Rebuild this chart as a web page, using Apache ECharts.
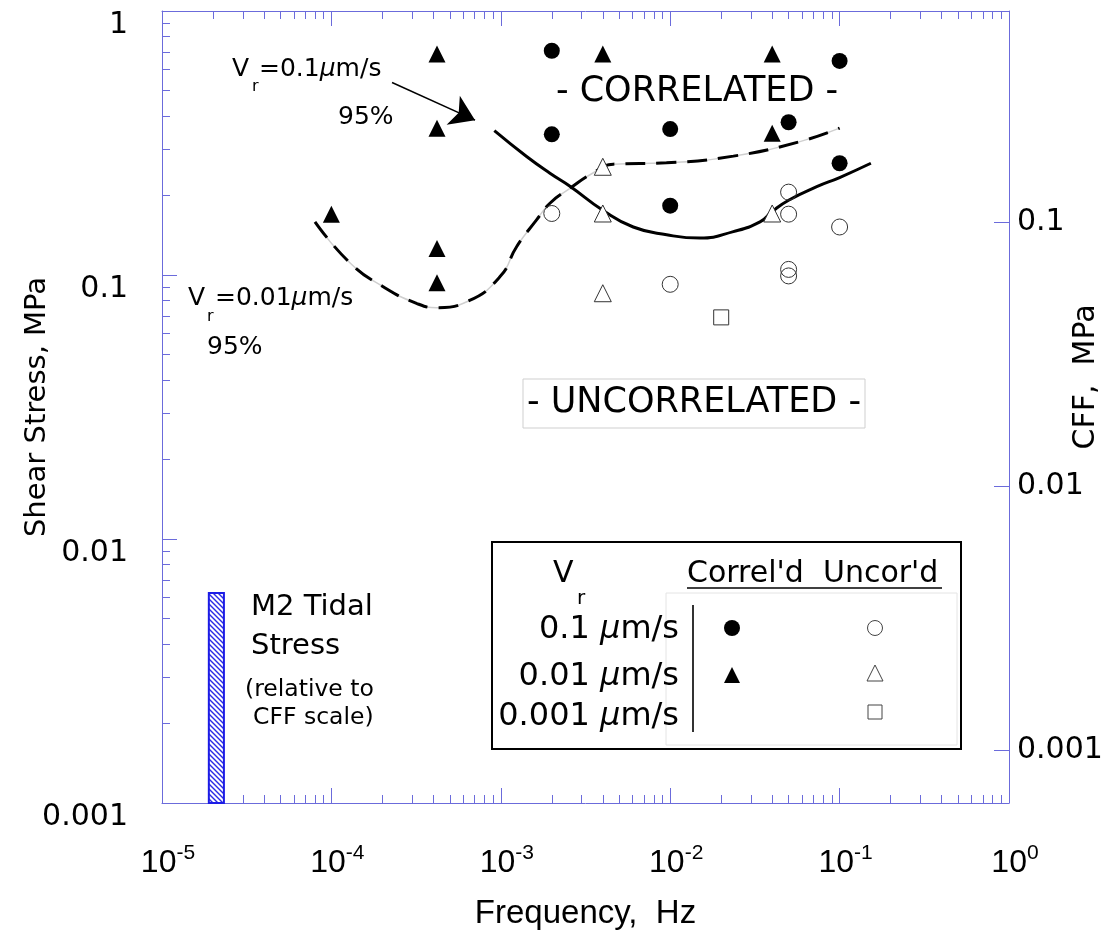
<!DOCTYPE html>
<html>
<head>
<meta charset="utf-8">
<script src="https://cdn.jsdelivr.net/npm/echarts@6/dist/echarts.min.js"></script>
<style>html,body{margin:0;padding:0;background:#fff;}#chart{width:1113px;height:935px;}</style>
</head>
<body>
<div id="chart"></div>
<script>
// ---------- data ----------
const xMajorTicks = [1e-5, 1e-4, 1e-3, 1e-2, 1e-1, 1];
const xTickExponents = ['-5', '-4', '-3', '-2', '-1', '0'];
const yMajorTicks = [0.001, 0.01, 0.1, 1];
const yTickLabels = ['0.001', '0.01', '0.1', '1'];
const cffTicks = [0.001, 0.01, 0.1];
const cffTickLabels = ['0.001', '0.01', '0.1'];
const cffMin = Math.pow(10, -3.2);
const cffMax = Math.pow(10, -0.2);

// Correlated, Vr = 0.1 um/s (filled circles)
const corr01 = [[0.002, 0.707], [0.002, 0.341], [0.01, 0.357], [0.01, 0.183], [0.05, 0.379], [0.1, 0.647], [0.1, 0.265]];
// Correlated, Vr = 0.01 um/s (filled triangles)
const corr001 = [[1e-4, 0.170], [4.2e-4, 0.687], [4.2e-4, 0.36], [4.2e-4, 0.126], [4.2e-4, 0.0935], [0.004, 0.687], [0.04, 0.687], [0.04, 0.344]];
// Uncorrelated, Vr = 0.1 um/s (open circles)
const unc01 = [[0.002, 0.171], [0.01, 0.0922], [0.05, 0.206], [0.05, 0.170], [0.05, 0.105], [0.05, 0.0992], [0.1, 0.152]];
// Uncorrelated, Vr = 0.01 um/s (open triangles)
const unc001 = [[0.004, 0.257], [0.004, 0.171], [0.004, 0.0853], [0.04, 0.171]];
// Uncorrelated, Vr = 0.001 um/s (open square)
const unc0001 = [[0.02, 0.0691]];

// 95% curve, Vr = 0.1 um/s (solid)
const curve01 = [[9.16e-4, 0.352], [1.42e-3, 0.281], [1.95e-3, 0.243], [2.56e-3, 0.217], [4.0e-3, 0.176], [6.05e-3, 0.152], [9.53e-3, 0.142], [0.015, 0.138], [0.0236, 0.146], [0.0339, 0.159], [0.04, 0.174], [0.05, 0.192], [0.0733, 0.216], [0.1, 0.234], [0.153, 0.265]];
// 95% curve, Vr = 0.01 um/s (dashed)
const curve001 = [[8.0e-5, 0.159], [1.29e-4, 0.111], [2.02e-4, 0.0903], [3.18e-4, 0.0781], [4.19e-4, 0.0752], [6.3e-4, 0.0792], [9.9e-4, 0.0986], [1.24e-3, 0.128], [1.63e-3, 0.162], [1.95e-3, 0.187], [2.56e-3, 0.213], [3.52e-3, 0.244], [4.61e-3, 0.263], [9.5e-3, 0.266], [0.0236, 0.282], [0.0583, 0.320], [0.1, 0.360]];

// arrow pointing at the Vr=0.1 curve
const arrowFrom = [2.28e-4, 0.536];
const arrowTo = [7.05e-4, 0.386];

// M2 tidal stress bar (CFF scale)
const tidalFreqRange = [1.89e-5, 2.32e-5];
const tidalCFF = 0.00394;

// ---------- helpers ----------
function minorTicks(lo, hi) {
  const out = [];
  for (let e = lo; e < hi; e++) for (let k = 2; k <= 9; k++) out.push(k * Math.pow(10, e));
  return out;
}
function lookup(v, ticks, labels) {
  for (let i = 0; i < ticks.length; i++) if (Math.abs(Math.log10(v / ticks[i])) < 1e-6) return labels[i];
  return '';
}
const AX = '#6b6bdb';
const FONT = 'DejaVu Sans';

// hatch pattern
const pc = document.createElement('canvas');
pc.width = 5; pc.height = 5;
const pctx = pc.getContext('2d');
pctx.fillStyle = '#fff'; pctx.fillRect(0, 0, 5, 5);
pctx.strokeStyle = '#2a2ae6'; pctx.lineWidth = 1.4;
pctx.beginPath();
pctx.moveTo(-1, -1); pctx.lineTo(6, 6);
pctx.moveTo(-1, 4); pctx.lineTo(1, 6);
pctx.moveTo(4, -1); pctx.lineTo(6, 1);
pctx.stroke();

const baseX = {type: 'log', min: 1e-5, max: 1, gridIndex: 0, splitLine: {show: false}};
const baseY = {type: 'log', min: 0.001, max: 1, gridIndex: 0, splitLine: {show: false}};

const chart = echarts.init(document.getElementById('chart'), null, {renderer: 'canvas'});

const muRich = {
  n: {fontFamily: FONT, fontSize: 25, color: '#000'},
  i: {fontFamily: FONT, fontSize: 25, fontStyle: 'italic', color: '#000'}
};
const muRichL = {
  n: {fontFamily: FONT, fontSize: 32, color: '#000'},
  i: {fontFamily: FONT, fontSize: 32, fontStyle: 'italic', color: '#000'}
};
function txt(x, y, text, size, align, extra) {
  return Object.assign({type: 'text', x: x, y: y, silent: true, z: 10,
    style: {text: text, fontFamily: FONT, fontSize: size, fill: '#000', align: align || 'left', verticalAlign: 'middle'}}, extra || {});
}

const graphics = [
  // annotations
  txt(232, 69, 'V', 25), txt(252, 87, 'r', 16),
  {type: 'text', x: 259, y: 69, z: 10, silent: true, style: {text: '{n|=0.1}{i|µ}{n|m/s}', rich: muRich, align: 'left', verticalAlign: 'middle'}},
  txt(338, 117, '95%', 25),
  txt(188, 298, 'V', 25), txt(207, 317, 'r', 16),
  {type: 'text', x: 215, y: 298, z: 10, silent: true, style: {text: '{n|=0.01}{i|µ}{n|m/s}', rich: muRich, align: 'left', verticalAlign: 'middle'}},
  txt(207, 347, '95%', 25),
  txt(697, 92, '- CORRELATED -', 35, 'center'),
  {type: 'rect', z: 9, silent: true, shape: {x: 523, y: 379, width: 342, height: 49}, style: {fill: '#fff', stroke: '#cfcfcf', lineWidth: 1}},
  txt(694, 403, '- UNCORRELATED -', 35, 'center'),
  // tidal text
  txt(251, 607, 'M2 Tidal', 29), txt(251, 646, 'Stress', 29),
  txt(245, 690, '(relative to', 23.5), txt(253, 718, 'CFF scale)', 23.5),
  // right axis title
  {type: 'text', x: 1086, y: 377, rotation: Math.PI / 2, silent: true, z: 10,
    style: {text: 'CFF,  MPa', fontFamily: FONT, fontSize: 30, fill: '#000', align: 'center', verticalAlign: 'middle'}},
  // legend box
  {type: 'rect', z: 8, silent: true, shape: {x: 492, y: 542, width: 469, height: 207}, style: {fill: '#fff', stroke: '#000', lineWidth: 2}},
  {type: 'rect', z: 9, silent: true, shape: {x: 666, y: 593, width: 291, height: 152}, style: {fill: null, stroke: '#e4e4e4', lineWidth: 1}},
  txt(553, 574, 'V', 30), txt(577, 599, 'r', 20),
  txt(687, 574, "Correl'd  Uncor'd", 30),
  {type: 'line', z: 10, silent: true, shape: {x1: 687, y1: 588, x2: 942, y2: 588}, style: {stroke: '#000', lineWidth: 1.5}},
  {type: 'text', x: 679, y: 630, z: 10, silent: true, style: {text: '{n|0.1 }{i|µ}{n|m/s}', rich: muRichL, align: 'right', verticalAlign: 'middle'}},
  {type: 'text', x: 679, y: 677, z: 10, silent: true, style: {text: '{n|0.01 }{i|µ}{n|m/s}', rich: muRichL, align: 'right', verticalAlign: 'middle'}},
  {type: 'text', x: 679, y: 717, z: 10, silent: true, style: {text: '{n|0.001 }{i|µ}{n|m/s}', rich: muRichL, align: 'right', verticalAlign: 'middle'}},
  {type: 'line', z: 10, silent: true, shape: {x1: 693, y1: 605, x2: 693, y2: 732}, style: {stroke: '#333', lineWidth: 2}},
  {type: 'circle', z: 10, silent: true, shape: {cx: 732, cy: 628, r: 8}, style: {fill: '#000'}},
  {type: 'circle', z: 10, silent: true, shape: {cx: 875, cy: 628, r: 7.5}, style: {fill: '#fff', stroke: '#444', lineWidth: 1}},
  {type: 'polygon', z: 10, silent: true, shape: {points: [[732, 667], [740, 683], [724, 683]]}, style: {fill: '#000'}},
  {type: 'polygon', z: 10, silent: true, shape: {points: [[875, 665], [883, 681], [867, 681]]}, style: {fill: '#fff', stroke: '#444', lineWidth: 1}},
  {type: 'rect', z: 10, silent: true, shape: {x: 868, y: 705, width: 14, height: 14}, style: {fill: '#fff', stroke: '#444', lineWidth: 1}}
];

const option = {
  animation: false,
  backgroundColor: '#fff',
  grid: {left: 162, top: 11, right: 104, bottom: 132, containLabel: false, outerBoundsMode: 'none'},
  xAxis: [
    Object.assign({}, baseX, {
      position: 'bottom',
      name: 'Frequency,  Hz', nameLocation: 'middle', nameGap: 94, nameMoveOverlap: false,
      nameTextStyle: {fontFamily: 'Liberation Sans', fontSize: 33, color: '#000'},
      axisLine: {show: true, lineStyle: {color: AX, width: 1}},
      axisTick: {show: true, inside: true, length: 15, customValues: xMajorTicks, lineStyle: {color: AX, width: 1}},
      axisLabel: {show: true, customValues: xMajorTicks, margin: 40, padding: [0, 0, 0, 12],
        formatter: v => '{b|10}{s|' + lookup(v, xMajorTicks, xTickExponents) + '}',
        rich: {
          b: {fontFamily: 'Liberation Sans', fontSize: 32, lineHeight: 40, color: '#000'},
          s: {fontFamily: 'Liberation Sans', fontSize: 21, lineHeight: 16, verticalAlign: 'top', color: '#000'}
        }}
    }),
    Object.assign({}, baseX, {
      position: 'top',
      axisLine: {show: true, lineStyle: {color: AX, width: 1}},
      axisTick: {show: true, inside: true, length: 15, customValues: xMajorTicks, lineStyle: {color: AX, width: 1}},
      axisLabel: {show: false}
    }),
    Object.assign({}, baseX, {
      position: 'bottom',
      axisLine: {show: false},
      axisTick: {show: true, inside: true, length: 8, customValues: minorTicks(-5, 0), lineStyle: {color: AX, width: 1}},
      axisLabel: {show: false}
    }),
    Object.assign({}, baseX, {
      position: 'top',
      axisLine: {show: false},
      axisTick: {show: true, inside: true, length: 8, customValues: minorTicks(-5, 0), lineStyle: {color: AX, width: 1}},
      axisLabel: {show: false}
    })
  ],
  yAxis: [
    Object.assign({}, baseY, {
      position: 'left',
      name: 'Shear Stress, MPa', nameLocation: 'middle', nameGap: 110, nameMoveOverlap: false,
      nameTextStyle: {fontFamily: FONT, fontSize: 29, color: '#000'},
      axisLine: {show: true, lineStyle: {color: AX, width: 1}},
      axisTick: {show: true, inside: true, length: 15, customValues: yMajorTicks, lineStyle: {color: AX, width: 1}},
      axisLabel: {show: true, customValues: yMajorTicks, margin: 34, fontFamily: FONT, fontSize: 30, color: '#000',
        verticalAlign: 'top', lineHeight: 28,
        formatter: v => lookup(v, yMajorTicks, yTickLabels)}
    }),
    Object.assign({}, baseY, {
      position: 'left',
      axisLine: {show: false},
      axisTick: {show: true, inside: true, length: 8, customValues: minorTicks(-3, 0), lineStyle: {color: AX, width: 1}},
      axisLabel: {show: false}
    }),
    {
      type: 'log', min: cffMin, max: cffMax, position: 'right', gridIndex: 0, splitLine: {show: false},
      axisLine: {show: true, lineStyle: {color: AX, width: 1}},
      axisTick: {show: true, inside: true, length: 15, customValues: cffTicks, lineStyle: {color: AX, width: 1}},
      axisLabel: {show: true, customValues: cffTicks, margin: 8, fontFamily: FONT, fontSize: 30, color: '#000',
        formatter: v => lookup(v, cffTicks, cffTickLabels)}
    }
  ],
  graphic: {elements: graphics},
  series: [
    {
      name: 'M2 tidal', type: 'scatter', xAxisIndex: 0, yAxisIndex: 2, data: [], silent: true,
      markArea: {silent: true, z: 4,
        itemStyle: {color: {image: pc, repeat: 'repeat'}, borderColor: '#1c1ce6', borderWidth: 2, opacity: 1},
        label: {show: false},
        data: [[{xAxis: tidalFreqRange[0], yAxis: cffMin}, {xAxis: tidalFreqRange[1], yAxis: tidalCFF}]]}
    },
    {
      name: '95% 0.01 base', type: 'line', xAxisIndex: 0, yAxisIndex: 0, data: curve001, smooth: true, showSymbol: false, silent: true, z: 2,
      lineStyle: {color: '#cfcfcf', width: 1.5}
    },
    {
      name: '95% 0.01', type: 'line', xAxisIndex: 0, yAxisIndex: 0, data: curve001, smooth: true, showSymbol: false, silent: true, z: 3,
      lineStyle: {color: '#000', width: 3, type: [20, 11]}
    },
    {
      name: '95% 0.1', type: 'line', xAxisIndex: 0, yAxisIndex: 0, data: curve01, smooth: true, showSymbol: false, silent: true, z: 3,
      lineStyle: {color: '#000', width: 3},
      markLine: {silent: true, symbol: ['none', 'arrow'], symbolSize: 24, label: {show: false},
        lineStyle: {color: '#000', width: 1.5, type: 'solid'},
        data: [[{coord: arrowFrom}, {coord: arrowTo}]]}
    },
    {name: 'corr 0.1', type: 'scatter', xAxisIndex: 0, yAxisIndex: 0, data: corr01, symbol: 'circle', symbolSize: 16, z: 5,
      itemStyle: {color: '#000', opacity: 1}},
    {name: 'corr 0.01', type: 'scatter', xAxisIndex: 0, yAxisIndex: 0, data: corr001, symbol: 'triangle', symbolSize: 17, z: 5,
      itemStyle: {color: '#000', opacity: 1}},
    {name: 'unc 0.1', type: 'scatter', xAxisIndex: 0, yAxisIndex: 0, data: unc01, symbol: 'circle', symbolSize: 16, z: 5,
      itemStyle: {color: 'rgba(255,255,255,0)', borderColor: '#333', borderWidth: 1, opacity: 1}},
    {name: 'unc 0.01', type: 'scatter', xAxisIndex: 0, yAxisIndex: 0, data: unc001, symbol: 'triangle', symbolSize: 17, z: 5,
      itemStyle: {color: '#fff', borderColor: '#333', borderWidth: 1, opacity: 1}},
    {name: 'unc 0.001', type: 'scatter', xAxisIndex: 0, yAxisIndex: 0, data: unc0001, symbol: 'rect', symbolSize: 15, z: 5,
      itemStyle: {color: '#fff', borderColor: '#333', borderWidth: 1, opacity: 1}}
  ]
};
chart.setOption(option);
</script>
</body>
</html>
